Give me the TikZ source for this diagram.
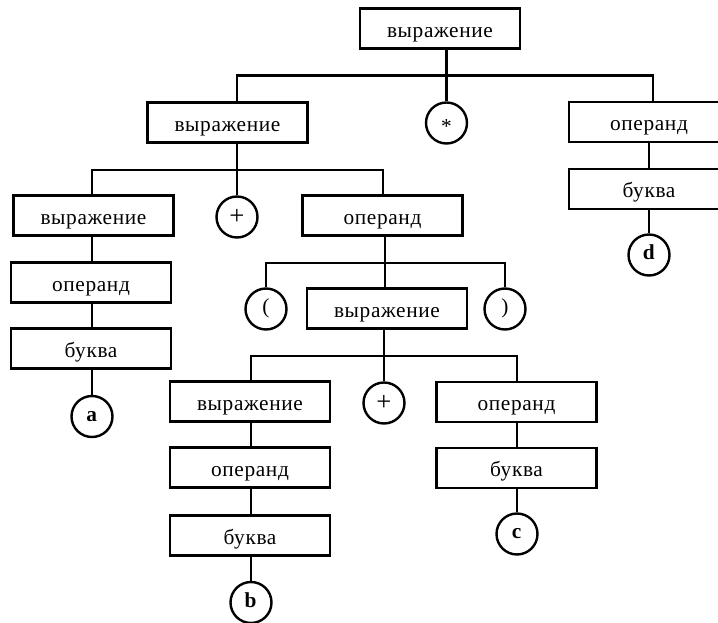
\documentclass[tikz,border=0pt]{standalone}
\usepackage{fontspec}
\setmainfont{Liberation Serif}[LetterSpace=3]
\begin{document}
\begin{tikzpicture}[x=0.75pt,y=-0.75pt,
  line width=1.8pt,
  term/.style={draw, rectangle, minimum width=120pt, minimum height=30pt,
    inner sep=0pt, text height=13.5pt, text depth=0pt,
    font=\fontsize{16}{19}\selectfont},
  leaf/.style={draw, circle, minimum size=30.75pt, inner sep=0pt,
    text height=7.5pt, text depth=0pt,
    font=\fontsize{16}{19}\selectfont}]
\useasboundingbox (0,0) rectangle (718,623);

% nodes of the derivation tree
\node[term] (root)   at (440,28.5)   {выражение};
\node[term] (e2)     at (227.5,122.5) {выражение};
\node[leaf] (star)   at (446.5,123)  {\raisebox{-0.28em}{*}};
\node[term] (opR)    at (649,122)    {операнд};
\node[term] (bukvaR) at (649,189)    {буква};
\node[leaf] (ld)     at (649,255)    {\textbf{d}};

\node[term] (e3)     at (93.5,215.5) {выражение};
\node[leaf] (plus1)  at (237,217)    {\fontsize{20}{20}\selectfont\raisebox{-0.08em}{+}};
\node[term] (op2)    at (382.5,215.5) {операнд};
\node[term] (opA)    at (91,282.5)   {операнд};
\node[term] (bukvaA) at (91,348.5)   {буква};
\node[leaf] (la)     at (92,416.5)   {\textbf{a}};

\node[leaf] (lpar)   at (266,309)    {(};
\node[term] (e4)     at (387,308.5)  {выражение};
\node[leaf] (rpar)   at (505,309)    {)};

\node[term] (e5)     at (250,401.5)  {выражение};
\node[leaf] (plus2)  at (384,403)    {\fontsize{20}{20}\selectfont\raisebox{-0.08em}{+}};
\node[term] (opC)    at (516.5,402)  {операнд};
\node[term] (opB)    at (250,467.5)  {операнд};
\node[term] (bukvaB) at (250,535.5)  {буква};
\node[leaf] (lb)     at (251,602.5)  {\textbf{b}};
\node[term] (bukvaC) at (516.5,468)  {буква};
\node[leaf] (lc)     at (517,534)    {\textbf{c}};

% stem positions and branching points
\coordinate (s0) at (446.5,75.5);
\coordinate (xE2) at (237,0);
\coordinate (xOpR) at (653,0);
\coordinate (s1) at (237,170);
\coordinate (xE3) at (92,0);
\coordinate (xOp2) at (383,0);
\coordinate (s2) at (385,263);
\coordinate (s3) at (384,356);
\coordinate (xB) at (251,0);
\coordinate (xC) at (517,0);

% root
\draw (root.south -| s0) -- (s0);
\draw (e2.north -| xE2) |- (s0) -| (opR.north -| xOpR);
\draw (s0) -- (star);
\draw (opR) -- (bukvaR);
\draw (bukvaR) -- (ld);

% left expression
\draw (e2.south -| s1) -- (s1);
\draw (e3.north -| xE3) |- (s1) -| (op2.north -| xOp2);
\draw (s1) -- (plus1);
\draw (e3.south -| xE3) -- (opA.north -| xE3);
\draw (opA.south -| xE3) -- (bukvaA.north -| xE3);
\draw (bukvaA.south -| xE3) -- (la);

% parenthesised operand
\draw (op2.south -| s2) -- (s2);
\draw (lpar) |- (s2) -| (rpar);
\draw (s2) -- (e4.north -| s2);

% inner expression
\draw (e4.south -| s3) -- (s3);
\draw (e5.north -| xB) |- (s3) -| (opC.north -| xC);
\draw (s3) -- (plus2);
\draw (e5.south -| xB) -- (opB.north -| xB);
\draw (opB.south -| xB) -- (bukvaB.north -| xB);
\draw (bukvaB.south -| xB) -- (lb);
\draw (opC.south -| xC) -- (bukvaC.north -| xC);
\draw (bukvaC.south -| xC) -- (lc);
\end{tikzpicture}
\end{document}
